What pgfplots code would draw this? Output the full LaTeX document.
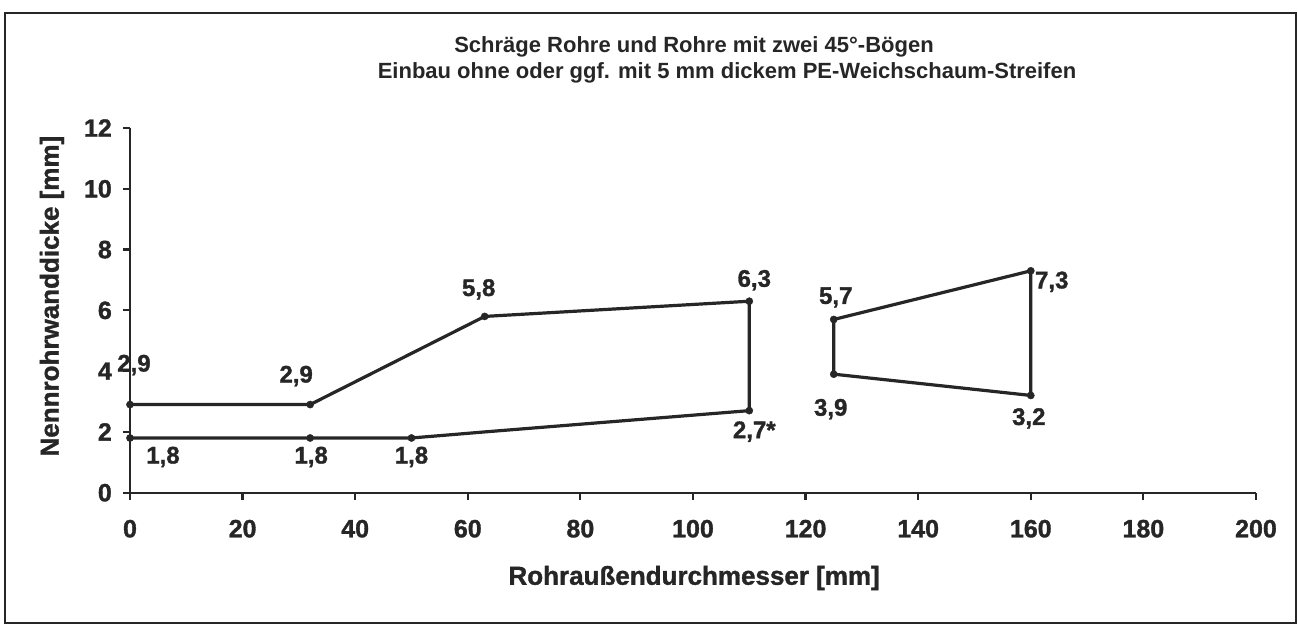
\documentclass[border=0pt]{standalone}
\usepackage{pgfplots}
\pgfplotsset{compat=1.18}
\usepackage{fontspec}
\setmainfont{Liberation Sans}
\newfontfamily\heavy[BoldFeatures={FakeBold=1.3}]{Liberation Sans}
\definecolor{ink}{HTML}{262626}
\begin{document}
\begin{tikzpicture}[x=1pt,y=1pt]
\path (0,0) rectangle (1298,626);
\draw[ink, line width=1.8pt] (5,3) rectangle (1296,613);
\node[font=\fontsize{22}{26}\selectfont\bfseries, text=ink] at (694,579) {Schräge Rohre und Rohre mit zwei 45°-Bögen};
\node[font=\fontsize{22}{26}\selectfont\bfseries, text=ink] at (727,553) {Einbau ohne oder ggf. mit 5 mm dickem PE-Weichschaum-Streifen};
\begin{axis}[
  at={(130pt,133.3pt)}, anchor=south west,
  scale only axis, width=1126pt, height=364.7pt,
  xmin=0, xmax=200, ymin=0, ymax=12,
  xtick={0,20,...,200}, ytick={0,2,...,12},
  axis x line=bottom, axis y line=left,
  axis line style={-, line width=2.2pt, ink},
  tick style={line width=2.2pt, ink},
  tick align=outside, major tick length=7pt,
  clip=false,
  /pgf/number format/assume math mode=true,
  ticklabel style={font=\fontsize{25}{28}\selectfont\heavy\bfseries, text=ink},
  xticklabel style={anchor=center, yshift=-29pt},
  yticklabel style={anchor=east, inner sep=0pt, xshift=-11pt},
  xlabel={Rohraußendurchmesser [mm]},
  ylabel={Nennrohrwanddicke [mm]},
  label style={font=\fontsize{26}{28}\selectfont\heavy\bfseries, text=ink},
  xlabel style={at={(axis description cs:0.501,-0.234)}, anchor=center},
  ylabel style={at={(axis description cs:-0.0693,0.539)}, anchor=center},
]
\addplot[ink, line width=3.2pt, line join=round, mark=none] coordinates {(0,2.9)(32,2.9)(63,5.8)(110,6.3)(110,2.7)(63,2.0)(50,1.8)(32,1.8)(0,1.8)};
\addplot[ink, line width=3.2pt, line join=round, mark=none] coordinates {(125,5.7)(160,7.3)(160,3.2)(125,3.9)(125,5.7)};
\addplot[only marks, mark=*, mark size=3.6pt, ink] coordinates {(0,2.9)(32,2.9)(63,5.8)(110,6.3)(110,2.7)(50,1.8)(32,1.8)(0,1.8)(125,5.7)(160,7.3)(160,3.2)(125,3.9)};
\begin{scope}[every node/.style={font=\fontsize{24}{26}\selectfont\heavy\bfseries, text=ink, inner sep=0pt, anchor=center}]
\node[xshift=4pt, yshift=39.5pt] at (axis cs:0,2.9) {2,9};
\node[xshift=-14pt, yshift=28.5pt] at (axis cs:32,2.9) {2,9};
\node[xshift=-6pt, yshift=27pt] at (axis cs:63,5.8) {5,8};
\node[xshift=5pt, yshift=21pt] at (axis cs:110,6.3) {6,3};
\node[xshift=5pt, yshift=-21pt] at (axis cs:110,2.7) {2,7*};
\node[xshift=33pt, yshift=-19pt] at (axis cs:0,1.8) {1,8};
\node[xshift=1pt, yshift=-19pt] at (axis cs:32,1.8) {1,8};
\node[xshift=0pt, yshift=-19pt] at (axis cs:50,1.8) {1,8};
\node[xshift=2pt, yshift=22pt] at (axis cs:125,5.7) {5,7};
\node[xshift=-3pt, yshift=-35pt] at (axis cs:125,3.9) {3,9};
\node[xshift=21pt, yshift=-11pt] at (axis cs:160,7.3) {7,3};
\node[xshift=-2pt, yshift=-23pt] at (axis cs:160,3.2) {3,2};
\end{scope}
\end{axis}
\end{tikzpicture}
\end{document}
